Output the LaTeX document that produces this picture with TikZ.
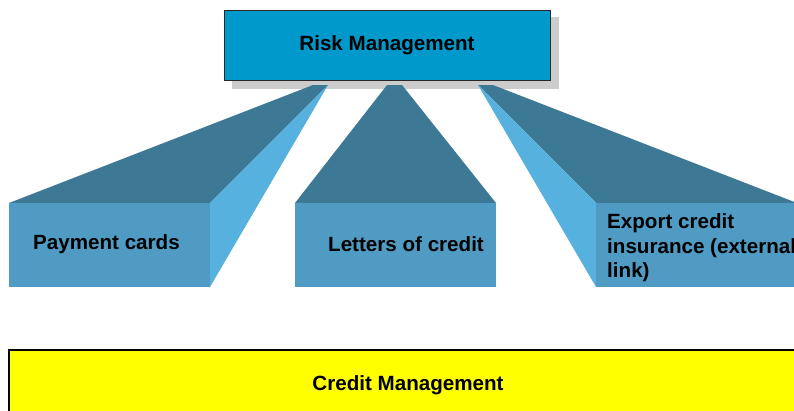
\documentclass[tikz,border=0pt]{standalone}
\usepackage{fontspec}
\setmainfont{Liberation Sans}
\usetikzlibrary{positioning}

\definecolor{riskblue}{HTML}{0099CC}
\definecolor{topface}{HTML}{3D7895}
\definecolor{frontface}{HTML}{4F9BC4}
\definecolor{sideface}{HTML}{57B1DE}
\definecolor{shadowgray}{HTML}{CCCCCC}
\definecolor{credityellow}{HTML}{FFFF00}

\tikzset{
  label text/.style={font=\fontsize{20.6}{24.5}\selectfont\bfseries, inner sep=0pt},
  front box/.style={fill=frontface, inner sep=0pt, minimum width=201pt, minimum height=84pt}
}

\begin{document}
\begin{tikzpicture}[x=1pt,y=-1pt]

            % \draw [help lines, step=50pt] (0,0) grid (794,410);
            \useasboundingbox (0,0) rectangle (794,410);
            \clip (0,0) rectangle (794,410);

            % shadow of the top box
            \fill[shadowgray] (232,17) rectangle (559,89);

            % the three blocks
            \fill[topface]  (9,203) -- (210,203) -- (328,85) -- (313,85) -- cycle;
            \fill[sideface] (210,203) -- (328,85) -- (210,287) -- cycle;
            \fill[topface]  (295,203) -- (496,203) -- (402,85) -- (387,85) -- cycle;
            \fill[topface]  (797,203) -- (596,203) -- (478,85) -- (493,85) -- cycle;
            \fill[sideface] (596,203) -- (478,85) -- (596,287) -- cycle;

            \path   (109.5,245) node (pc) [front box] {}
                    (395.5,245) node (lc) [front box] {}
                    (696.5,245) node (ec) [front box] {}

                    (387,45) node (risk) [draw=black!85, fill=riskblue, line width=1pt,
                                          minimum width=326pt, minimum height=70pt, label text] {Risk Management}

                    (409,390) node (credit) [draw=black, fill=credityellow, line width=1.2pt,
                                             minimum width=800pt, minimum height=80pt, label text] {};

            \node [label text, anchor=base west] (pctext) at (33,249) {Payment cards};
            \node [label text, anchor=base west] (lctext) at (328,251) {Letters of credit};
            \node [label text, anchor=north west, align=left] (ectext) at (607,213.5)
            {
            Export credit\\insurance (external\\link)
            };
            \node [label text, anchor=base] (crtext) at (408,390) {Credit Management};
        \end{tikzpicture}
\end{document}
